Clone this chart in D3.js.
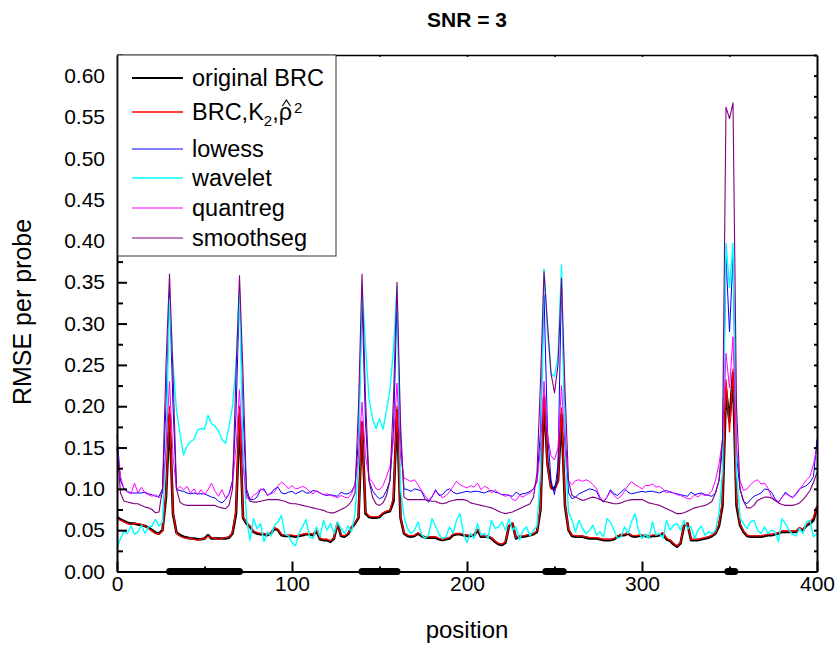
<!DOCTYPE html>
<meta charset="utf-8">
<head>
	<title>SNR = 3</title>
</head>

<style>
body { margin: 0; background: #fff; }
svg { font-family: "Liberation Sans", Arial, sans-serif; background: #fff; }
.axis path, .axis line { stroke: #000; stroke-width: 2; }
.axis text { font-size: 21px; fill: #000; font-family: "Liberation Sans", Arial, sans-serif; }
.series { fill: none; stroke-linejoin: round; }
</style>

<body>
<svg width="837" height="648"></svg>

<script src="https://cdnjs.cloudflare.com/ajax/libs/d3/7.8.5/d3.min.js"></script>
<script>

// positions 0..400, every 2 probes
var positions = d3.range(0, 401, 2);

var originalBRC = [
	0.066,0.063,0.061,0.059,0.058,0.058,0.057,0.056,0.055,0.053,
	0.050,0.047,0.046,0.050,0.090,0.190,0.070,0.047,0.044,0.042,
	0.041,0.040,0.040,0.039,0.039,0.040,0.044,0.040,0.040,0.040,
	0.040,0.040,0.041,0.046,0.070,0.190,0.065,0.058,0.054,0.048,
	0.046,0.045,0.045,0.044,0.046,0.052,0.050,0.044,0.043,0.043,
	0.043,0.042,0.043,0.044,0.045,0.045,0.044,0.049,0.039,0.038,
	0.038,0.036,0.040,0.058,0.043,0.042,0.045,0.053,0.058,0.065,
	0.180,0.070,0.066,0.065,0.065,0.066,0.070,0.072,0.073,0.085,
	0.195,0.065,0.046,0.043,0.042,0.043,0.046,0.043,0.041,0.041,
	0.041,0.041,0.039,0.038,0.039,0.040,0.044,0.045,0.045,0.044,
	0.043,0.043,0.044,0.050,0.042,0.042,0.042,0.040,0.036,0.033,
	0.032,0.035,0.055,0.058,0.040,0.042,0.042,0.043,0.044,0.045,
	0.048,0.075,0.210,0.130,0.102,0.100,0.110,0.190,0.080,0.050,
	0.043,0.042,0.042,0.042,0.041,0.040,0.040,0.040,0.039,0.038,
	0.038,0.038,0.039,0.042,0.044,0.044,0.046,0.043,0.042,0.043,
	0.043,0.043,0.042,0.043,0.043,0.044,0.046,0.039,0.037,0.033,
	0.030,0.034,0.055,0.058,0.038,0.038,0.038,0.039,0.040,0.041,
	0.043,0.046,0.055,0.080,0.220,0.181,0.240,0.080,0.056,0.048,
	0.043,0.042,0.042,0.042,0.042,0.043,0.044,0.044,0.045,0.046,
	0.048,0.048,0.048,0.048,0.048,0.052,0.050,0.056,0.058,0.062,
	0.078
];

var brcK2 = [
	0.064,0.062,0.060,0.058,0.057,0.058,0.058,0.057,0.055,0.052,
	0.049,0.046,0.045,0.049,0.095,0.200,0.072,0.046,0.043,0.041,
	0.040,0.040,0.039,0.038,0.039,0.040,0.043,0.041,0.040,0.039,
	0.040,0.041,0.042,0.047,0.075,0.200,0.066,0.059,0.055,0.049,
	0.047,0.046,0.046,0.045,0.047,0.053,0.051,0.045,0.044,0.044,
	0.044,0.043,0.044,0.045,0.046,0.046,0.045,0.050,0.040,0.039,
	0.039,0.037,0.041,0.057,0.044,0.043,0.046,0.054,0.059,0.066,
	0.182,0.072,0.067,0.066,0.066,0.067,0.071,0.073,0.074,0.090,
	0.200,0.066,0.047,0.044,0.043,0.044,0.047,0.044,0.042,0.042,
	0.042,0.042,0.040,0.039,0.040,0.041,0.045,0.046,0.046,0.045,
	0.044,0.044,0.045,0.051,0.043,0.043,0.043,0.041,0.037,0.034,
	0.033,0.036,0.056,0.059,0.041,0.043,0.043,0.044,0.045,0.046,
	0.049,0.078,0.215,0.128,0.100,0.098,0.108,0.198,0.082,0.051,
	0.044,0.043,0.043,0.043,0.042,0.041,0.041,0.041,0.040,0.039,
	0.039,0.039,0.040,0.043,0.045,0.045,0.047,0.044,0.043,0.044,
	0.044,0.044,0.043,0.044,0.044,0.045,0.047,0.040,0.038,0.034,
	0.031,0.035,0.056,0.059,0.039,0.039,0.039,0.040,0.041,0.042,
	0.044,0.047,0.057,0.085,0.232,0.169,0.245,0.085,0.058,0.049,
	0.044,0.043,0.043,0.043,0.043,0.044,0.045,0.045,0.046,0.047,
	0.049,0.049,0.049,0.049,0.049,0.053,0.051,0.057,0.060,0.065,
	0.080
];

var lowess = [
	0.165,0.110,0.100,0.097,0.095,0.095,0.095,0.095,0.096,0.094,
	0.093,0.091,0.091,0.100,0.200,0.340,0.200,0.099,0.098,0.097,
	0.095,0.094,0.095,0.094,0.094,0.094,0.092,0.090,0.089,0.085,
	0.083,0.087,0.094,0.110,0.190,0.340,0.190,0.100,0.087,0.087,
	0.090,0.099,0.100,0.092,0.095,0.100,0.102,0.095,0.094,0.096,
	0.097,0.094,0.096,0.098,0.095,0.095,0.098,0.097,0.095,0.093,
	0.092,0.093,0.092,0.091,0.096,0.094,0.094,0.097,0.105,0.160,
	0.330,0.180,0.110,0.098,0.092,0.088,0.090,0.098,0.110,0.170,
	0.330,0.160,0.100,0.099,0.097,0.100,0.099,0.097,0.088,0.084,
	0.090,0.099,0.092,0.093,0.098,0.100,0.096,0.094,0.095,0.096,
	0.097,0.096,0.097,0.097,0.096,0.095,0.097,0.098,0.096,0.095,
	0.093,0.093,0.092,0.091,0.096,0.093,0.094,0.095,0.097,0.100,
	0.110,0.170,0.335,0.170,0.110,0.093,0.130,0.350,0.170,0.095,
	0.088,0.090,0.094,0.096,0.098,0.100,0.099,0.097,0.088,0.084,
	0.090,0.099,0.094,0.092,0.096,0.100,0.096,0.094,0.095,0.096,
	0.097,0.096,0.097,0.097,0.096,0.095,0.097,0.098,0.096,0.095,
	0.094,0.093,0.092,0.091,0.096,0.093,0.094,0.095,0.093,0.092,
	0.091,0.095,0.110,0.150,0.380,0.290,0.380,0.140,0.100,0.085,
	0.082,0.087,0.091,0.093,0.095,0.100,0.099,0.096,0.088,0.084,
	0.090,0.096,0.092,0.090,0.094,0.100,0.102,0.104,0.108,0.115,
	0.160
];

var wavelet = [
	0.028,0.040,0.048,0.046,0.055,0.045,0.048,0.056,0.046,0.054,
	0.055,0.063,0.055,0.060,0.150,0.330,0.250,0.195,0.167,0.141,
	0.152,0.157,0.160,0.171,0.173,0.172,0.189,0.179,0.176,0.170,
	0.160,0.155,0.175,0.200,0.250,0.340,0.150,0.064,0.038,0.064,
	0.052,0.058,0.036,0.048,0.043,0.056,0.060,0.068,0.045,0.043,
	0.035,0.031,0.046,0.054,0.063,0.042,0.040,0.054,0.042,0.062,
	0.050,0.058,0.046,0.060,0.052,0.046,0.055,0.048,0.070,0.130,
	0.346,0.272,0.210,0.185,0.173,0.185,0.172,0.195,0.220,0.270,
	0.345,0.100,0.066,0.052,0.046,0.050,0.060,0.045,0.040,0.044,
	0.064,0.055,0.045,0.040,0.042,0.054,0.046,0.062,0.070,0.046,
	0.035,0.046,0.040,0.058,0.044,0.046,0.040,0.062,0.052,0.054,
	0.060,0.050,0.064,0.050,0.054,0.038,0.050,0.054,0.043,0.050,
	0.055,0.120,0.366,0.290,0.240,0.236,0.260,0.371,0.150,0.072,
	0.062,0.048,0.062,0.052,0.046,0.050,0.056,0.044,0.048,0.042,
	0.064,0.060,0.050,0.040,0.042,0.054,0.046,0.060,0.070,0.050,
	0.040,0.045,0.040,0.060,0.044,0.046,0.040,0.062,0.050,0.056,
	0.058,0.050,0.062,0.052,0.054,0.040,0.050,0.055,0.044,0.048,
	0.046,0.050,0.070,0.120,0.397,0.344,0.397,0.120,0.065,0.058,
	0.052,0.060,0.062,0.050,0.046,0.054,0.046,0.050,0.048,0.036,
	0.064,0.058,0.050,0.045,0.043,0.052,0.046,0.060,0.062,0.042,
	0.046
];

var quantreg = [
	0.150,0.115,0.100,0.096,0.094,0.107,0.095,0.102,0.095,0.093,
	0.091,0.093,0.089,0.095,0.150,0.230,0.140,0.099,0.103,0.099,
	0.103,0.095,0.100,0.093,0.099,0.093,0.099,0.107,0.097,0.091,
	0.099,0.089,0.093,0.107,0.150,0.220,0.130,0.089,0.087,0.092,
	0.095,0.100,0.098,0.093,0.094,0.096,0.104,0.108,0.105,0.100,
	0.104,0.100,0.101,0.103,0.101,0.097,0.094,0.098,0.095,0.093,
	0.094,0.092,0.091,0.089,0.092,0.090,0.089,0.094,0.105,0.140,
	0.205,0.140,0.113,0.108,0.100,0.099,0.104,0.115,0.127,0.160,
	0.228,0.140,0.113,0.111,0.109,0.111,0.105,0.098,0.092,0.086,
	0.091,0.097,0.094,0.089,0.092,0.096,0.103,0.109,0.105,0.103,
	0.101,0.104,0.102,0.107,0.099,0.103,0.101,0.095,0.099,0.095,
	0.093,0.091,0.093,0.087,0.086,0.092,0.090,0.093,0.095,0.100,
	0.108,0.150,0.230,0.165,0.140,0.135,0.150,0.225,0.150,0.110,
	0.105,0.110,0.111,0.109,0.111,0.109,0.105,0.100,0.090,0.085,
	0.090,0.097,0.092,0.088,0.091,0.097,0.104,0.109,0.105,0.103,
	0.100,0.104,0.104,0.106,0.102,0.103,0.100,0.095,0.097,0.095,
	0.093,0.092,0.090,0.088,0.088,0.093,0.090,0.094,0.092,0.093,
	0.098,0.110,0.130,0.160,0.264,0.222,0.284,0.150,0.110,0.098,
	0.100,0.105,0.109,0.111,0.106,0.107,0.101,0.090,0.087,0.083,
	0.090,0.094,0.092,0.089,0.093,0.099,0.105,0.111,0.115,0.130,
	0.150
];

var smoothseg = [
	0.150,0.095,0.085,0.084,0.083,0.082,0.082,0.080,0.078,0.077,
	0.075,0.071,0.072,0.100,0.250,0.360,0.240,0.100,0.084,0.081,
	0.080,0.080,0.080,0.080,0.080,0.080,0.080,0.080,0.080,0.078,
	0.077,0.076,0.080,0.100,0.240,0.358,0.240,0.095,0.085,0.084,
	0.084,0.085,0.086,0.087,0.087,0.087,0.087,0.086,0.085,0.083,
	0.082,0.082,0.081,0.080,0.079,0.078,0.077,0.076,0.075,0.074,
	0.072,0.071,0.071,0.073,0.075,0.077,0.080,0.085,0.095,0.200,
	0.360,0.210,0.110,0.090,0.082,0.080,0.083,0.092,0.110,0.210,
	0.350,0.180,0.090,0.087,0.087,0.087,0.087,0.087,0.087,0.086,
	0.085,0.085,0.083,0.082,0.083,0.085,0.086,0.087,0.087,0.087,
	0.086,0.083,0.082,0.081,0.080,0.079,0.078,0.077,0.075,0.073,
	0.071,0.070,0.071,0.072,0.074,0.076,0.078,0.080,0.082,0.090,
	0.120,0.230,0.363,0.300,0.240,0.216,0.250,0.355,0.220,0.110,
	0.092,0.090,0.088,0.086,0.087,0.089,0.090,0.089,0.087,0.085,
	0.084,0.083,0.082,0.082,0.083,0.085,0.086,0.087,0.087,0.087,
	0.087,0.085,0.083,0.082,0.081,0.080,0.078,0.076,0.074,0.072,
	0.070,0.070,0.071,0.073,0.075,0.077,0.078,0.079,0.080,0.082,
	0.085,0.095,0.110,0.160,0.562,0.548,0.567,0.200,0.100,0.085,
	0.077,0.077,0.080,0.086,0.088,0.090,0.090,0.089,0.086,0.083,
	0.081,0.080,0.080,0.080,0.081,0.083,0.087,0.092,0.098,0.108,
	0.120
];

// true change regions drawn on the axis
var changeRegions = [[30, 70], [140, 160], [245, 255], [349, 353]];

var xTicks = [0, 100, 200, 300, 400];
var xMinor = [50, 150, 250, 350];
var yTicks = [0, 0.05, 0.10, 0.15, 0.20, 0.25, 0.30, 0.35, 0.40, 0.45, 0.50, 0.55, 0.60];
var yMinor = [0.025, 0.075, 0.125, 0.175, 0.225, 0.275, 0.325, 0.375, 0.425, 0.475, 0.525, 0.575, 0.625];

var series = [
	{name: 'original BRC', values: originalBRC, color: '#000000', width: 2.6},
	{name: 'BRC,K2,rho', values: brcK2, color: '#ff0000', width: 1.3},
	{name: 'lowess', values: lowess, color: '#0000ff', width: 1},
	{name: 'wavelet', values: wavelet, color: '#00ffff', width: 1.4},
	{name: 'quantreg', values: quantreg, color: '#ff00ff', width: 1},
	{name: 'smoothseg', values: smoothseg, color: '#800080', width: 1.1}
];

var svg = d3.select('svg');

var x = d3.scaleLinear().domain([0, 400]).range([117, 817]);
var y = d3.scaleLinear().domain([0, 0.625]).range([571.5, 55]);

// lines
var line = d3.line()
	.x(function(d, i){ return x(positions[i]); })
	.y(function(d){ return y(d); });

svg.append('g').selectAll('path')
	.data(series)
	.enter().append('path')
	.attr('class', 'series')
	.attr('d', function(d){ return line(d.values); })
	.attr('stroke', function(d){ return d.color; })
	.attr('stroke-width', function(d){ return d.width; });

// axes
svg.append('g').attr('class', 'axis')
	.attr('transform', 'translate(0,571.5)')
	.call(d3.axisBottom(x).tickValues(xTicks).tickSize(-10).tickSizeOuter(0).tickPadding(5).tickFormat(d3.format('d')));

svg.append('g').attr('class', 'axis')
	.attr('transform', 'translate(0,571.5)')
	.call(d3.axisBottom(x).tickValues(xMinor).tickSize(-5).tickSizeOuter(0).tickFormat(''))
	.select('.domain').remove();

svg.append('g').attr('class', 'axis')
	.attr('transform', 'translate(117,0)')
	.call(d3.axisLeft(y).tickValues(yTicks).tickSize(-10).tickSizeOuter(0).tickPadding(12).tickFormat(d3.format('.2f')));

svg.append('g').attr('class', 'axis')
	.attr('transform', 'translate(117,0)')
	.call(d3.axisLeft(y).tickValues(yMinor).tickSize(-6).tickSizeOuter(0).tickFormat(''))
	.select('.domain').remove();

svg.append('g').attr('class', 'axis')
	.attr('transform', 'translate(817,0)')
	.call(d3.axisRight(y).tickValues(yTicks.concat(yMinor)).tickSize(-3).tickSizeOuter(0).tickFormat(''));

svg.append('g').attr('class', 'axis top')
	.attr('transform', 'translate(0,55)')
	.call(d3.axisTop(x).tickValues([50, 100, 150, 200, 250, 300, 350]).tickSize(-2).tickSizeOuter(0).tickFormat(''))
	.selectAll('path, line').style('stroke-width', 1.5);

// change regions on the x axis
svg.append('g').selectAll('line')
	.data(changeRegions)
	.enter().append('line')
	.attr('x1', function(d){ return x(d[0]); })
	.attr('x2', function(d){ return x(d[1]); })
	.attr('y1', y(0))
	.attr('y2', y(0))
	.attr('stroke', '#000')
	.attr('stroke-width', 7)
	.attr('stroke-linecap', 'round');

// titles
svg.append('text')
	.attr('x', 467).attr('y', 27)
	.attr('text-anchor', 'middle')
	.style('font-size', '21px').style('font-weight', 'bold')
	.text('SNR = 3');

svg.append('text')
	.attr('x', 467).attr('y', 638)
	.attr('text-anchor', 'middle')
	.style('font-size', '24px')
	.text('position');

svg.append('text')
	.attr('transform', 'translate(31,312) rotate(-90)')
	.attr('text-anchor', 'middle')
	.style('font-size', '25px')
	.text('RMSE per probe');

// legend
var legend = svg.append('g');
legend.append('rect')
	.attr('x', 118).attr('y', 55).attr('width', 218).attr('height', 201)
	.attr('fill', '#fff').attr('stroke', '#333').attr('stroke-width', 1);

var rowY = [78, 112, 149, 178, 208, 238];

var rows = legend.selectAll('g.row')
	.data(series)
	.enter().append('g')
	.attr('class', 'row')
	.attr('transform', function(d, i){ return 'translate(0,' + rowY[i] + ')'; });

rows.append('line')
	.attr('x1', 132).attr('x2', 183)
	.attr('stroke', function(d){ return d.color; })
	.attr('stroke-width', function(d){ return Math.min(d.width, 1.8); });

var labels = rows.append('text')
	.attr('x', 192).attr('y', 8)
	.style('font-size', '23.5px');

labels.each(function(d, i){
	var t = d3.select(this);
	if (i === 1) {
		t.append('tspan').text('BRC,K');
		t.append('tspan').attr('dy', 6).style('font-size', '15px').text('2');
		t.append('tspan').attr('dy', -6).text(',\u03C1');
		t.append('tspan').attr('dx', 2).attr('dy', -7).style('font-size', '15px').text('2');

		// hat over rho (char index 7), drawn as a small caret
		var node = this;
		var s = node.getStartPositionOfChar(7), e = node.getEndPositionOfChar(7);
		var mid = (s.x + e.x) / 2 + 1;
		d3.select(node.parentNode).append('path')
			.attr('d', 'M' + (mid - 4) + ',' + (8 - 14) + 'L' + mid + ',' + (8 - 20) + 'L' + (mid + 4) + ',' + (8 - 14))
			.attr('fill', 'none')
			.attr('stroke', '#000')
			.attr('stroke-width', 1.2);
	} else {
		t.text(d.name);
	}
});

</script>
</body>
</html>
